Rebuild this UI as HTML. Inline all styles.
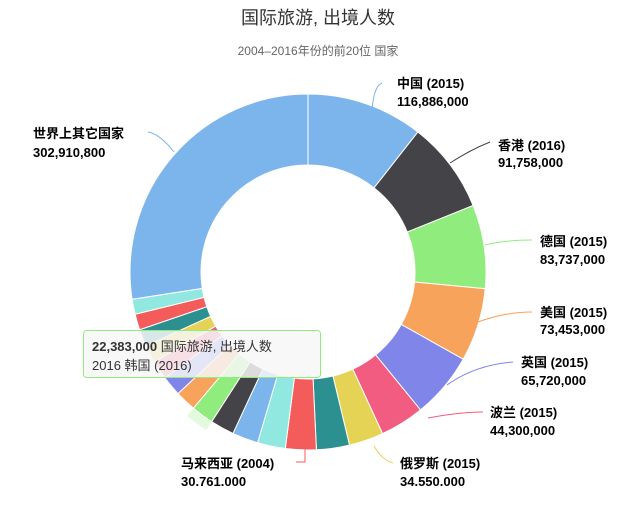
<!DOCTYPE html>
<html><head><meta charset="utf-8"><style>
body{margin:0;background:#fff;}
svg text{font-family:"Liberation Sans","Noto Sans CJK SC",sans-serif;}
.l{font-size:13px;font-weight:bold;fill:#000;}
</style></head><body>
<svg id="s" width="636" height="513" xmlns="http://www.w3.org/2000/svg">
<text x="318" y="24" text-anchor="middle" style="font-size:18px;fill:#333">国际旅游, 出境人数</text>
<text x="318" y="55" text-anchor="middle" style="font-size:12px;fill:#666">2004–2016年份的前20位 国家</text>
<g id="pie"></g>
<g fill="none" stroke-width="1">
<path d="M372 110 Q374 86 382 83" stroke="#7cb5ec"/>
<path d="M450 163 Q470 150 490 142" stroke="#434348"/>
<path d="M485 245 Q505 240 532 240" stroke="#90ed7d"/>
<path d="M478 322 Q505 312 532 312" stroke="#f7a35c"/>
<path d="M447 385 Q475 365 513 362" stroke="#8085e9"/>
<path d="M428 418 Q460 412 483 412" stroke="#f15c80"/>
<path d="M374 446 Q382 460 393 463" stroke="#e4d354"/>
<path d="M305 448 L305 462 L296 462" stroke="#f45b5b"/>
<path d="M174 152 Q160 134 148 132" stroke="#7cb5ec"/>
</g>
<text class="l" x="397" y="88">中国 (2015)</text><text class="l" x="397" y="106">116,886,000</text>
<text class="l" x="498" y="150">香港 (2016)</text><text class="l" x="498" y="167">91,758,000</text>
<text class="l" x="540" y="246">德国 (2015)</text><text class="l" x="540" y="264">83,737,000</text>
<text class="l" x="540" y="317">美国 (2015)</text><text class="l" x="540" y="334">73,453,000</text>
<text class="l" x="521" y="367">英国 (2015)</text><text class="l" x="521" y="385">65,720,000</text>
<text class="l" x="490" y="417">波兰 (2015)</text><text class="l" x="490" y="435">44,300,000</text>
<text class="l" x="400" y="468">俄罗斯 (2015)</text><text class="l" x="400" y="486">34.550.000</text>
<text class="l" x="181" y="468">马来西亚 (2004)</text><text class="l" x="181" y="486">30.761.000</text>
<text class="l" x="33" y="138">世界上其它国家</text><text class="l" x="33" y="157">302,910,800</text>
<rect x="83.5" y="330.5" width="237" height="47" rx="3" fill="#f7f7f7" fill-opacity="0.85" stroke="#90ed7d"/>
<text x="92" y="351" style="font-size:13px;fill:#333"><tspan font-weight="bold">22,383,000</tspan> 国际旅游, 出境人数</text>
<text x="92" y="370" style="font-size:13px;fill:#333">2016 韩国 (2016)</text>
</svg>
<script>
var v=[116.886,91.758,83.737,73.453,65.72,44.3,34.55,33,30.761,28,26,24,22.383,21,20,19,18,17,16,15,302.91];
var c=["#7cb5ec","#434348","#90ed7d","#f7a35c","#8085e9","#f15c80","#e4d354","#2b908f","#f45b5b","#91e8e1"];
var t=v.reduce(function(a,b){return a+b},0),cx=308,cy=272,R=178,r=107,a=0,h="";
function p(rad,ang){return (cx+rad*Math.sin(ang)).toFixed(2)+" "+(cy-rad*Math.cos(ang)).toFixed(2);}
for(var i=0;i<v.length;i++){
var a1=a+v[i]/t*2*Math.PI,lg=(a1-a)>Math.PI?1:0;
if(i==12){h+='<path d="M'+p(R,a)+' L'+p(R+10,a)+' A'+(R+10)+' '+(R+10)+' 0 0 1 '+p(R+10,a1)+' L'+p(R,a1)+' A'+R+' '+R+' 0 0 0 '+p(R,a)+'Z" fill="#90ed7d" fill-opacity="0.25"/>';}
h+='<path d="M'+p(R,a)+' A'+R+' '+R+' 0 '+lg+' 1 '+p(R,a1)+' L'+p(r,a1)+' A'+r+' '+r+' 0 '+lg+' 0 '+p(r,a)+'Z" fill="'+c[i%10]+'" stroke="#fff" stroke-width="1"/>';
a=a1;}
document.getElementById("pie").innerHTML=h;
</script>
</body></html>
